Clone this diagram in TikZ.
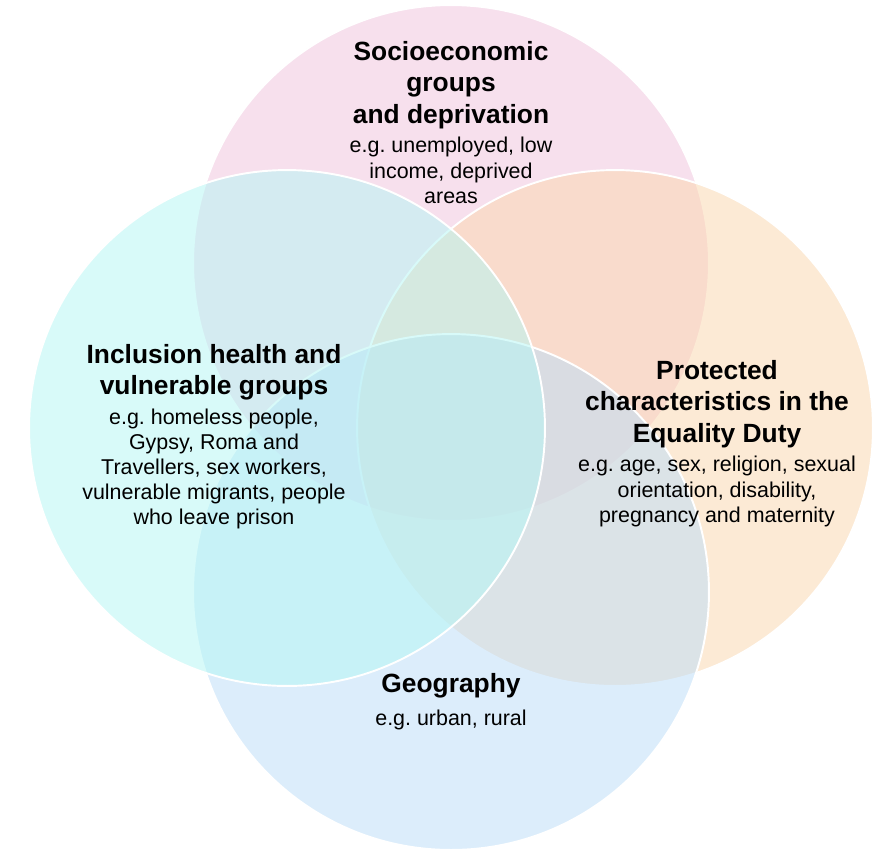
\documentclass[tikz,border=0pt]{standalone}
\usepackage{fontspec}
\setmainfont{Liberation Sans}
\usetikzlibrary{positioning}
\definecolor{sociopink}{HTML}{F1C3DD}
\definecolor{protorange}{HTML}{FBD7AD}
\definecolor{geoblue}{HTML}{BBDDF9}
\definecolor{inclcyan}{HTML}{B3F7F5}
\frenchspacing
\begin{document}
\begin{tikzpicture}[x=0.02cm,y=-0.02cm,
  set/.style={draw=white,line width=1.1pt,fill opacity=0.5},
  heading/.style={font=\fontsize{15}{18.1}\selectfont\bfseries,align=center,inner sep=0pt},
  examples/.style={font=\fontsize{12.2}{14.3}\selectfont,align=center,inner sep=0pt}]
\useasboundingbox (0,0) rectangle (884,849);
\fill[white] (0,0) rectangle (884,849);

% the four sets, back to front
\draw[set,fill=sociopink] (451,263) circle[radius=5.16cm];
\draw[set,fill=protorange] (615,428) circle[radius=5.16cm];
\draw[set,fill=geoblue] (451,592) circle[radius=5.16cm];
\draw[set,fill=inclcyan] (287,428) circle[radius=5.16cm];

\node[heading,anchor=north] (socio) at (451,40.7) {Socioeconomic\\groups\\and deprivation};
\node[examples,below=0.15cm of socio] (socioeg) {e.g. unemployed, low\\income, deprived\\areas};

\node[heading,anchor=north] (incl) at (214,343.7) {Inclusion health and\\vulnerable groups};
\node[examples,below=0.15cm of incl] (incleg) {e.g. homeless people,\\Gypsy, Roma and\\Travellers, sex workers,\\vulnerable migrants, people\\who leave prison};

\node[heading,anchor=north] (prot) at (717,359.7) {Protected\\characteristics in the\\Equality Duty};
\node[examples,below=0.15cm of prot] (proteg) {e.g. age, sex, religion, sexual\\orientation, disability,\\pregnancy and maternity};

\node[heading,anchor=north] (geo) at (451,672.7) {Geography};
\node[examples,below=0.24cm of geo] (geoeg) {e.g. urban, rural};
\end{tikzpicture}
\end{document}
